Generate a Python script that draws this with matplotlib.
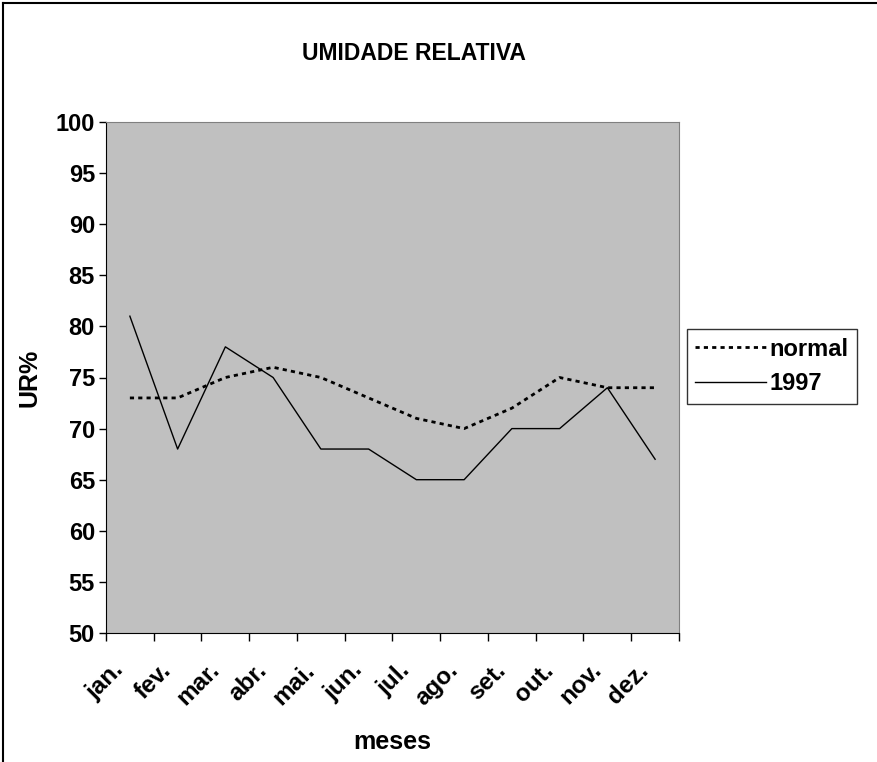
import matplotlib.pyplot as plt
import matplotlib.transforms as mtransforms
from matplotlib.lines import Line2D

plt.rcParams['font.family'] = ['Liberation Sans', 'DejaVu Sans']
plt.rcParams['font.weight'] = 'bold'

# Data
months = ["jan.", "fev.", "mar.", "abr.", "mai.", "jun.",
          "jul.", "ago.", "set.", "out.", "nov.", "dez."]
normal = [73, 73, 75, 76, 75, 73, 71, 70, 72, 75, 74, 74]
ur_1997 = [81, 68, 78, 75, 68, 68, 65, 65, 70, 70, 74, 67]

W, H = 878, 762
fig = plt.figure(figsize=(W / 100, H / 100), dpi=100)
ax = fig.add_axes([106 / W, 1 - 633 / H, (679 - 106) / W, (633 - 122) / H])
ax.set_facecolor("#C0C0C0")

x = list(range(len(months)))
ax.plot(x, normal, color="black", lw=2, linestyle=(0, (1.5, 1.5)), label="normal")
ax.plot(x, ur_1997, color="black", lw=1, label="1997")

ax.set_xlim(-0.5, len(months) - 0.5)
ax.set_ylim(50, 100)
ax.set_yticks(range(50, 101, 5))
ax.tick_params(axis="y", labelsize=17, length=5, width=1, pad=3)

# ticks between categories, labels at centres
ax.set_xticks([i - 0.5 for i in range(len(months) + 1)])
ax.set_xticklabels([])
ax.tick_params(axis="x", which="major", length=6, width=1, direction="out")
ax.set_xticks(x, minor=True)
ax.set_xticklabels(months, minor=True, rotation=45, ha="right",
                   rotation_mode="anchor", fontsize=17.5)
ax.tick_params(axis="x", which="minor", length=0, pad=14)
shift = mtransforms.ScaledTranslation(-18 / 100, -6 / 100, fig.dpi_scale_trans)
for lab in ax.get_xticklabels(minor=True):
    lab.set_transform(lab.get_transform() + shift)

for s in ["top", "right"]:
    ax.spines[s].set_color("#808080")
for s in ["left", "bottom"]:
    ax.spines[s].set_color("black")

ax.set_ylabel("UR%", fontsize=18, fontweight="bold")
ax.yaxis.set_label_coords(-0.112, 0.5)
ax.set_xlabel("meses", fontsize=18, fontweight="bold")
ax.xaxis.set_label_coords(0.5, -0.19)

fig.text(0.472, 1 - 53 / H, "UMIDADE RELATIVA", ha="center", va="center",
         fontsize=16.5, fontweight="bold")

leg = fig.legend(loc="center left", bbox_to_anchor=(687 / W, 1 - 366.5 / H),
                 fontsize=17, frameon=True, fancybox=False, edgecolor="black",
                 handlelength=3.0, handletextpad=0.15, borderpad=0.35,
                 labelspacing=0.5, borderaxespad=0)
leg.get_frame().set_linewidth(1)

# chart border (left and top)
fig.add_artist(Line2D([3 / W, 3 / W], [0, 1 - 3 / H], color="black", lw=1.5))
fig.add_artist(Line2D([3 / W, 1], [1 - 3 / H, 1 - 3 / H], color="black", lw=1.5))

fig.savefig("out.png", dpi=100)
